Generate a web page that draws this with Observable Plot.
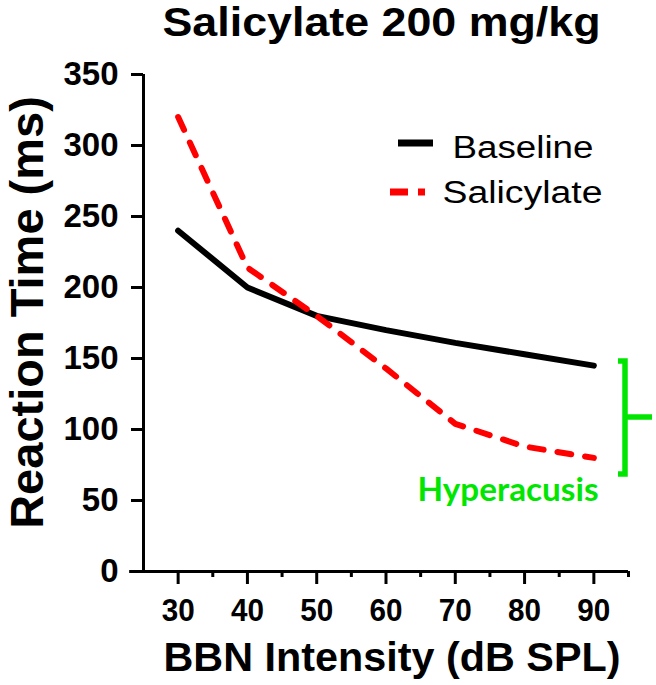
<!DOCTYPE html>
<html>
<head>
<meta charset="utf-8">
<script src="https://cdn.jsdelivr.net/npm/d3@7"></script>
<script src="https://cdn.jsdelivr.net/npm/@observablehq/plot@0.6"></script>
<style>
html, body { margin: 0; padding: 0; background: #fff; }
#chart { width: 656px; height: 685px; }
</style>
</head>
<body>
<div id="chart"></div>
<script>
// ---- data ----
const intensity = [30, 40, 50, 60, 70, 80, 90];
const baseline = [240, 200, 180, 170, 161, 153, 145];
const salicylate = [320, 214, 180, 143, 104, 88, 80];
const seriesNames = ["Baseline", "Salicylate"];
const xTicks = [30, 40, 50, 60, 70, 80, 90];
const xMinorTicks = [35, 45, 55, 65, 75, 85, 95];
const yTicks = [0, 50, 100, 150, 200, 250, 300, 350];
const xDomain = [25, 95];
const yDomain = [0, 350];
const titleText = "Salicylate 200 mg/kg";
const xLabel = "BBN Intensity (dB SPL)";
const yLabel = "Reaction Time (ms)";
const annotation = "Hyperacusis";

// ---- style ----
const font = "'Liberation Sans', Arial, Helvetica, sans-serif";
const green = "#00e600";
const red = "#ff0000";

const rows = intensity.flatMap((x, i) => [
  {x, y: baseline[i], series: seriesNames[0]},
  {x, y: salicylate[i], series: seriesNames[1]}
]);

const plot = Plot.plot({
  width: 656,
  height: 685,
  marginTop: 74,
  marginBottom: 114,
  marginLeft: 143,
  marginRight: 28,
  style: {fontFamily: font, background: "#fff", color: "#000", overflow: "visible"},
  x: {domain: xDomain},
  y: {domain: yDomain},
  marks: [
    // axis lines
    Plot.ruleX([xDomain[0]], {y1: yDomain[0], y2: yDomain[1], stroke: "#000", strokeWidth: 3}),
    Plot.ruleY([yDomain[0]], {x1: xDomain[0] - 2, x2: xDomain[1], stroke: "#000", strokeWidth: 3}),
    // axes
    Plot.axisY(yTicks, {tickSize: 12, tickPadding: 13, fontSize: 33, fontWeight: "bold", strokeWidth: 3, label: null}),
    Plot.axisX(xTicks, {tickSize: 13, tickPadding: 14, fontSize: 32, fontWeight: "bold", strokeWidth: 3, label: null}),
    Plot.axisX(xMinorTicks, {tickSize: 6, tickFormat: () => "", strokeWidth: 3, label: null}),
    // data
    Plot.line(rows.filter(d => d.series === seriesNames[0]), {x: "x", y: "y", stroke: "#000", strokeWidth: 6, strokeLinejoin: "miter"}),
    Plot.line(rows.filter(d => d.series === seriesNames[1]), {x: "x", y: "y", stroke: red, strokeWidth: 6, strokeDasharray: "14,14", strokeLinecap: "round"}),
    // texts
    Plot.text([titleText], {text: d => d, frameAnchor: "top", lineAnchor: "bottom", dx: -4.5, dy: -39, fontSize: 40, fontWeight: "bold"}),
    Plot.text([xLabel], {text: d => d, frameAnchor: "bottom", lineAnchor: "bottom", dx: 6, dy: 99, fontSize: 40, fontWeight: "bold"}),
    Plot.text([yLabel], {text: d => d, frameAnchor: "left", textAnchor: "middle", rotate: -90, dx: -116, dy: -10.5, fontSize: 47, fontWeight: "bold"}),
    Plot.text([seriesNames[0]], {text: d => d, frameAnchor: "top-left", textAnchor: "start", lineAnchor: "bottom", dx: 309, dy: 83, fontSize: 31}),
    Plot.text([seriesNames[1]], {text: d => d, frameAnchor: "top-left", textAnchor: "start", lineAnchor: "bottom", dx: 299, dy: 128, fontSize: 31}),
    Plot.text([annotation], {text: d => d, frameAnchor: "top-left", textAnchor: "start", lineAnchor: "bottom", dx: 274, dy: 426, fontSize: 33, fontWeight: "bold", fontFamily: "Lato, 'Open Sans', sans-serif", fill: green})
  ]
});

document.getElementById("chart").append(plot);

const svg = d3.select(plot);

// fit text widths to the reference
const fit = {[titleText]: 438, [xLabel]: 457, [seriesNames[0]]: 141, [seriesNames[1]]: 160, [annotation]: 181};
svg.selectAll("text").each(function () {
  const w = fit[this.textContent];
  if (w) {
    this.setAttribute("textLength", w);
    this.setAttribute("lengthAdjust", "spacingAndGlyphs");
  }
});
svg.selectAll('g[aria-label="x-axis tick label"] text').each(function () {
  if (this.textContent) {
    this.setAttribute("textLength", 33);
    this.setAttribute("lengthAdjust", "spacingAndGlyphs");
  }
});

// legend swatches
const lg = svg.append("g");
lg.append("line").attr("x1", 398).attr("x2", 433).attr("y1", 143).attr("y2", 143)
  .attr("stroke", "#000").attr("stroke-width", 7);
lg.append("line").attr("x1", 390).attr("x2", 425).attr("y1", 192).attr("y2", 192)
  .attr("stroke", red).attr("stroke-width", 7).attr("stroke-dasharray", "18,10");

// hyperacusis bracket
svg.append("path")
  .attr("d", "M618,361H625V474H618M625,417H652")
  .attr("fill", "none").attr("stroke", green).attr("stroke-width", 5.5);
</script>
</body>
</html>
